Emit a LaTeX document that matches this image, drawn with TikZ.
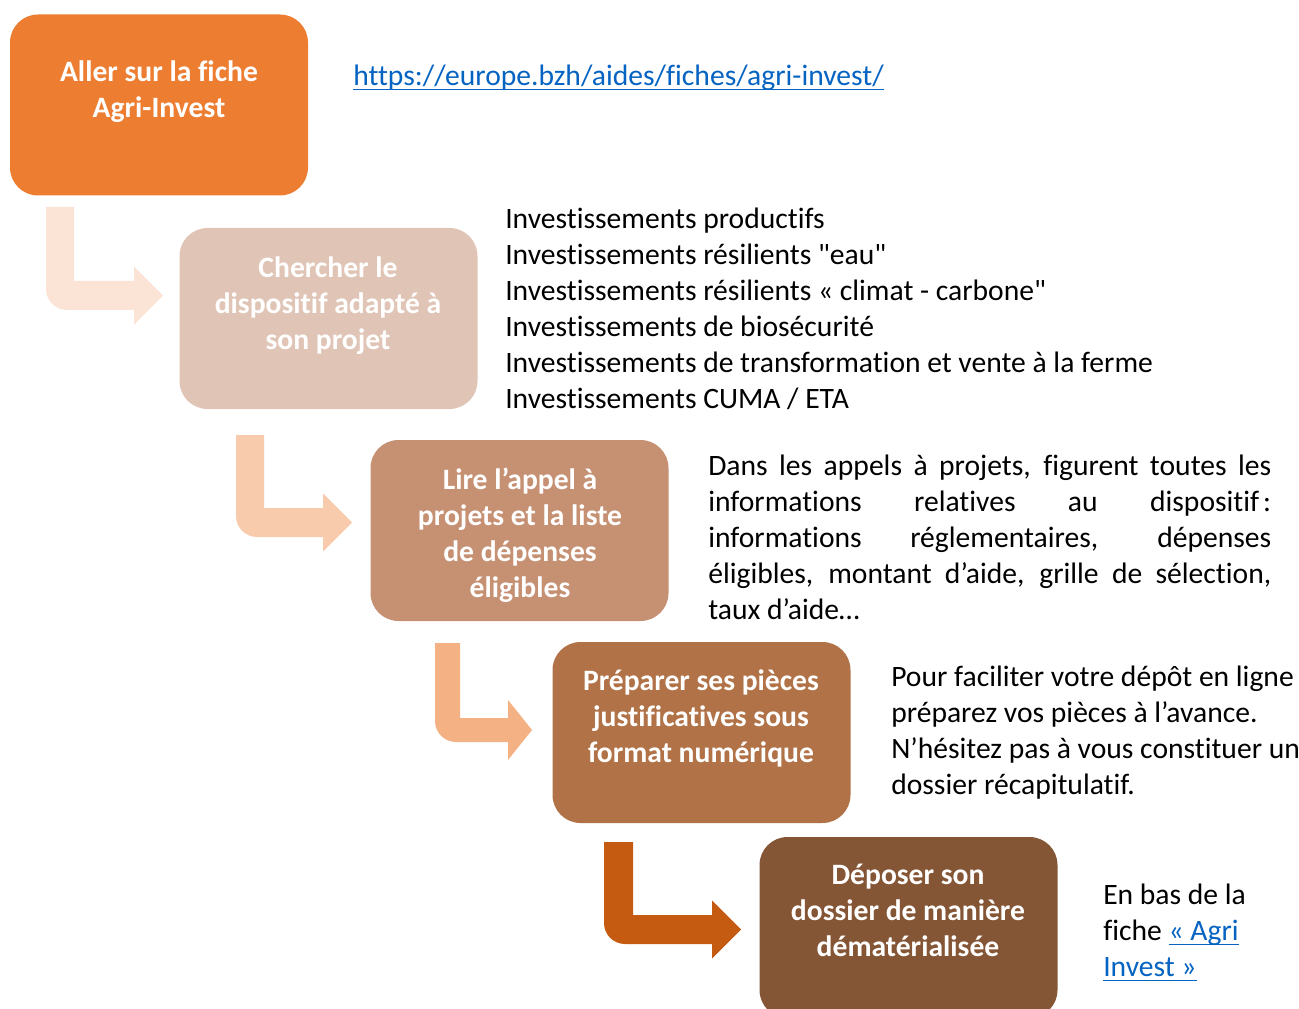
\documentclass[tikz,border=0pt]{standalone}
\usepackage{fontspec}
\setmainfont{Carlito}[Ligatures={TeXOff,NoCommon}]
\setlength{\parindent}{0pt}
\definecolor{cA}{HTML}{ED7D31}
\definecolor{cB}{HTML}{E0C5B6}
\definecolor{cC}{HTML}{C69073}
\definecolor{cD}{HTML}{B07246}
\definecolor{cE}{HTML}{845635}
\definecolor{aA}{HTML}{FBE4D5}
\definecolor{aB}{HTML}{F8CBAD}
\definecolor{aC}{HTML}{F4B183}
\definecolor{aD}{HTML}{C55A11}
\definecolor{linkblue}{HTML}{0563C1}
\newcommand\myul[1]{\setbox0\hbox{#1}\rlap{\rule[-3.4pt]{\wd0}{1.1pt}}\box0}
\newcommand\bentarrow[9]{%
  \pgfmathsetmacro\midy{(#5+#6)/2}%
  \fill[#1] (#2,#4) -- (#3,#4) -- (#3,#5) -- (#7,#5) -- (#7,{\midy-#9})
    -- (#8,\midy) -- (#7,{\midy+#9}) -- (#7,#6) -- ({#2+21},#6)
    .. controls ({#2+9.4},#6) and (#2,{#6-9.4}) .. (#2,{#6-21}) -- cycle;}
\tikzset{
  stepbox/.style={rounded corners=21pt, minimum width=223.5pt, minimum height=135.75pt, inner sep=0pt, draw=none},
  boxtext/.style={anchor=north, inner sep=0pt, align=center, text=white,
    font={\fontsize{22.2}{27}\selectfont\bfseries}, execute at begin node=\strut},
  plaintext/.style={anchor=north west, inner sep=0pt, align=left,
    font={\fontsize{22.2}{27}\selectfont}, execute at begin node=\strut},
}
\begin{document}
\begin{tikzpicture}[x=0.75pt, y=-0.75pt]
\useasboundingbox (0,0) rectangle (1299,1009);
\clip (0,0) rectangle (1299,1009);
% arrows
\bentarrow{aA}{46}{74}{207}{281}{310}{134}{163}{29}
\bentarrow{aB}{236}{264}{435}{508}{537}{323}{352}{29}
\bentarrow{aC}{435}{460}{643}{718}{742}{508}{532}{30}
\bentarrow{aD}{604}{633}{842}{915}{944}{712}{741}{29}
% boxes
\node[stepbox, fill=cA] (b1) at (159,105) {};
\node[stepbox, fill=cB] (b2) at (328.5,318.5) {};
\node[stepbox, fill=cC] (b3) at (519.5,530.5) {};
\node[stepbox, fill=cD] (b4) at (701.5,732.5) {};
\node[stepbox, fill=cE] (b5) at (908.5,927.5) {};
% box texts
\node[boxtext] (t1) at (159,60) {Aller sur la fiche\\Agri-Invest};
\node[boxtext] (t2) at (328,256) {Chercher le\\dispositif adapté à\\son projet};
\node[boxtext] (t3) at (520,468) {Lire l’appel à\\projets et la liste\\de dépenses\\éligibles};
\node[boxtext] (t4) at (701,669) {Préparer ses pièces\\justificatives sous\\format numérique};
\node[boxtext] (t5) at (908,864) {Déposer son\\dossier de manière\\dématérialisée};
% side texts
\node[plaintext, text=linkblue] (url) at (353,60) {\myul{https://europe.bzh/aides/fiches/agri-invest/}};
\node[plaintext] (s1) at (505,208) {Investissements productifs\\Investissements résilients "eau"\\Investissements résilients « climat - carbone"\\Investissements de biosécurité\\Investissements de transformation et vente à la ferme\\Investissements CUMA / ETA};
\node[plaintext, align=justify, text width=422.25pt] (s2) at (708,450) {Dans les appels à projets, figurent toutes les\linebreak informations relatives au dispositif\kern3pt:\linebreak informations réglementaires, dépenses\linebreak éligibles, montant d’aide, grille de sélection,\linebreak taux d’aide…};
\node[plaintext] (s3) at (891,666) {Pour faciliter votre dépôt en ligne\\préparez vos pièces à l’avance.\\N’hésitez pas à vous constituer un\\dossier récapitulatif.};
\node[plaintext] (s4) at (1103,884) {En bas de la\\fiche {\color{linkblue}\myul{« Agri}}\\{\color{linkblue}\myul{Invest »}}};
\end{tikzpicture}
\end{document}
